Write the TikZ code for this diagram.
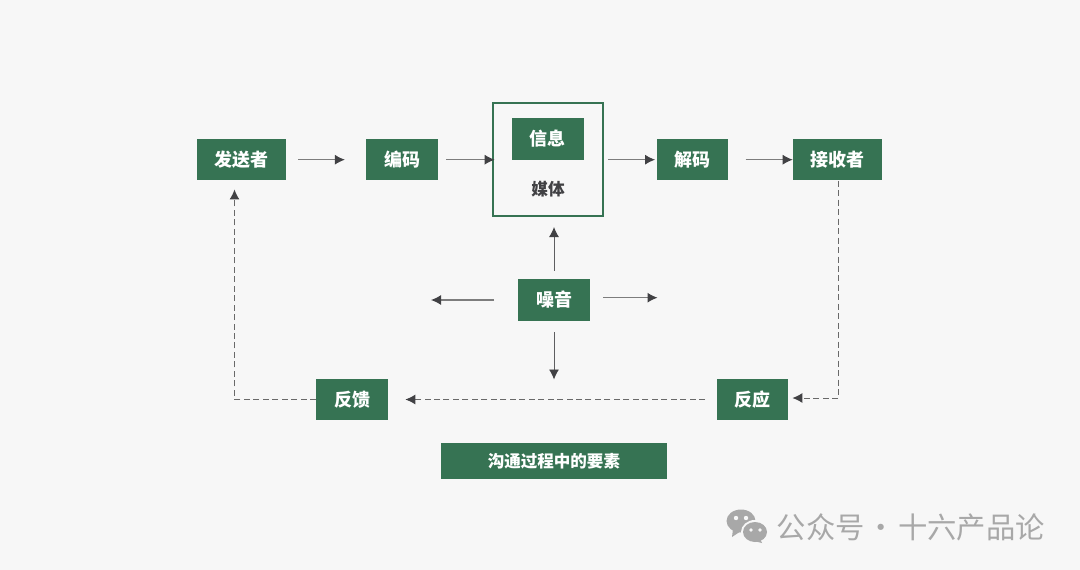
\documentclass[tikz,border=0pt]{standalone}
\usepackage{fontspec}
\setmainfont{Noto Sans CJK SC}
\usetikzlibrary{arrows.meta,positioning}
\definecolor{pagegray}{RGB}{247,247,247}
\definecolor{boxgreen}{RGB}{54,115,83}
\definecolor{linegray}{RGB}{125,125,125}
\definecolor{dashgray}{RGB}{105,105,105}
\definecolor{tipdark}{RGB}{65,65,68}
\definecolor{markgray}{RGB}{168,168,168}
\tikzset{
  greenbox/.style={fill=boxgreen, text=white, font=\fontsize{13.5}{15}\selectfont\bfseries, inner sep=0pt, minimum width=53.6pt, minimum height=31.2pt},
  widebox/.style={greenbox, minimum width=66.8pt},
  flow/.style={draw=linegray, line width=0.8pt, -{Latex[length=7.5pt,width=7.5pt,color=tipdark]}},
  noiseflow/.style={flow, draw=tipdark!85!white, line width=0.7pt},
  backflow/.style={flow, draw=dashgray, dash pattern=on 4.5pt off 2.6pt, line width=0.75pt}
}
\begin{document}
\begin{tikzpicture}[x=0.75pt, y=-0.75pt]
  \fill[pagegray] (0,0) rectangle (1080,570);

  \node[widebox] (sender) at (241.5, 159.7) {发送者};
  \node[greenbox] (encode) at (402.2, 159.7) {编码};
  \node[draw=boxgreen, line width=1.2pt, inner sep=0pt, minimum width=82.5pt, minimum height=84.8pt] (medium) at (547.8, 159.3) {};
  \node[greenbox] (message) at (547.8, 138.8) {信息};
  \node[font=\fontsize{12.5}{14}\selectfont\bfseries, text=tipdark] (mediumtext) at (548, 189) {媒体};
  \node[greenbox] (decode) at (692.4, 159.7) {解码};
  \node[widebox] (receiver) at (837.5, 159.7) {接收者};
  \node[greenbox] (noise) at (554, 299.7) {噪音};
  \node[greenbox] (feedback) at (352, 399.5) {反馈};
  \node[greenbox] (response) at (752.4, 399.5) {反应};
  \node[greenbox, font=\fontsize{12.4}{14}\selectfont\bfseries, minimum width=169.5pt, minimum height=26.6pt] (caption) at (553.9, 460.8) {沟通过程中的要素};

  \coordinate (noiseleft) at (431, 300);
  \coordinate (noiseright) at (657.5, 297.7);
  \coordinate (noisedown) at (554, 379.5);
  \coordinate (noiseup) at (554, 227);
  \coordinate (rcorner) at (838.5, 398);
  \coordinate (fcorner) at (234.5, 399.5);
  \coordinate (stip) at (234.5, 189.5);

  \draw[flow, shorten <=9pt, shorten >=16pt] (sender) -- (encode);
  \draw[flow, shorten <=6pt, shorten >=-2pt] (encode) -- (encode -| medium.west);
  \draw[flow, shorten <=3.5pt, shorten >=1pt] (decode -| medium.east) -- (decode);
  \draw[flow, shorten <=13pt] (decode) -- (receiver);

  \draw[noiseflow, shorten <=6pt] (noise) -- (noiseup);
  \draw[flow] (494, 300 -| noise.west) ++(-18pt,0) -- (noiseleft);
  \draw[flow] (noise.east |- noiseright) ++(10pt,0) -- (noiseright);
  \draw[noiseflow, shorten <=8.5pt] (noise) -- (noisedown);

  \draw[backflow, shorten >=3pt] (receiver.south -| rcorner) -- (rcorner) -- (rcorner -| response.east);
  \draw[backflow, shorten <=8.5pt, shorten >=13pt] (response) -- (feedback);
  \draw[backflow] (feedback.west) -- (fcorner) -- (stip);

  \fill[markgray] (741, 521) ellipse [x radius=14.5, y radius=11.5];
  \fill[markgray] (733, 529) -- (732, 537) -- (741, 531) -- cycle;
  \fill[pagegray] (755, 532) ellipse [x radius=14, y radius=12];
  \fill[markgray] (755, 532) ellipse [x radius=12, y radius=10];
  \fill[markgray] (760, 539) -- (762, 543) -- (754, 541) -- cycle;
  \fill[pagegray] (736, 518) circle [radius=2.2];
  \fill[pagegray] (746, 518) circle [radius=2.2];
  \fill[pagegray] (751, 530) circle [radius=1.8];
  \fill[pagegray] (760, 530) circle [radius=1.8];
  \node[anchor=west, inner sep=0pt, text=markgray, font=\fontsize{22}{24}\selectfont] (mark) at (776.5, 527) {公众号\hspace{1.5pt}·\hspace{1.5pt}十六产品论};
\end{tikzpicture}
\end{document}
